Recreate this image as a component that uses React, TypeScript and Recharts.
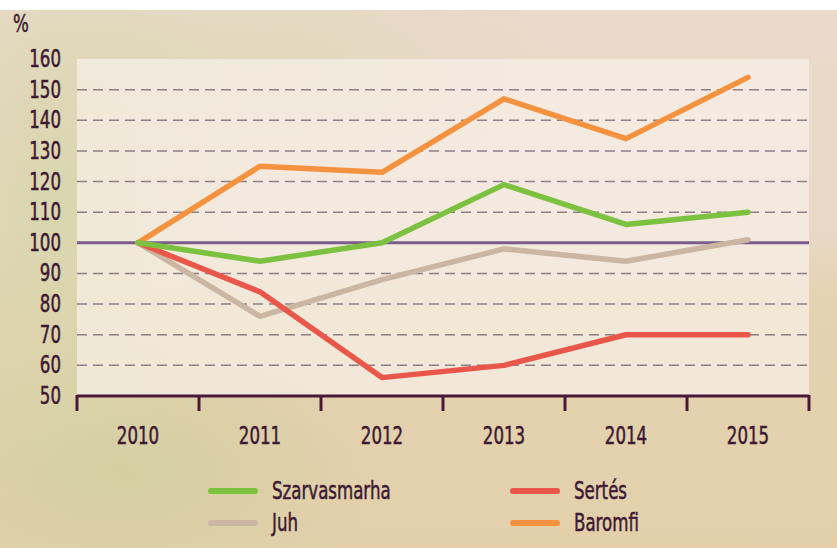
import React from 'react';
import { LineChart, Line, XAxis, YAxis, ReferenceLine, ReferenceArea } from 'recharts';

const categories = ['2010', '2011', '2012', '2013', '2014', '2015'];
const szarvasmarha = [100, 94, 100, 119, 106, 110];
const juh = [100, 76, 88, 98, 94, 101];
const sertes = [100, 84, 56, 60, 70, 70];
const baromfi = [100, 125, 123, 147, 134, 154];
const yTicks = [50, 60, 70, 80, 90, 100, 110, 120, 130, 140, 150, 160];
const gridValues = [60, 70, 80, 90, 110, 120, 130, 140, 150];
const xTicks = [0, 1, 2, 3, 4, 5, 6];

const data = categories.map((c, i) => ({
  x: i + 0.5,
  year: c,
  szarvasmarha: szarvasmarha[i],
  juh: juh[i],
  sertes: sertes[i],
  baromfi: baromfi[i],
}));

const FONT = "'DejaVu Sans Condensed', 'DejaVu Sans', sans-serif";
const TEXT = '#3d1a33';
const AXIS = '#4a1838';
const SX = 0.77;

const COLORS = {
  szarvasmarha: '#7cc240',
  juh: '#cbb5a3',
  sertes: '#e9574b',
  baromfi: '#f59240',
};

const XTick = (props: any) => {
  const { x, y, payload } = props;
  const idx = payload.value;
  const band = 122;
  return (
    <g>
      <line x1={x} x2={x} y1={y - 1} y2={y + 15} stroke={AXIS} strokeWidth={3} />
      {idx < categories.length && (
        <text
          transform={`translate(${x + band / 2},${y + 48}) scale(${SX},1)`}
          x={0}
          y={0}
          textAnchor="middle"
          fontFamily={FONT}
          fontSize={24}
          fill={TEXT}
          stroke={TEXT}
          strokeWidth={0.5}
        >
          {categories[idx]}
        </text>
      )}
    </g>
  );
};

const YTick = (props: any) => {
  const { x, y, payload } = props;
  return (
    <text
      transform={`translate(${x},${y + 8}) scale(${SX},1)`}
      x={0}
      y={0}
      textAnchor="end"
      fontFamily={FONT}
      fontSize={24}
      fill={TEXT}
      stroke={TEXT}
      strokeWidth={0.5}
    >
      {payload.value}
    </text>
  );
};

const legendItems = [
  { name: 'Szarvasmarha', color: COLORS.szarvasmarha, left: 208, top: 478 },
  { name: 'Juh', color: COLORS.juh, left: 208, top: 510 },
  { name: 'Sertés', color: COLORS.sertes, left: 510, top: 478 },
  { name: 'Baromfi', color: COLORS.baromfi, left: 510, top: 510 },
];

export default function App() {
  return (
    <div
      style={{
        position: 'absolute',
        left: 0,
        top: 0,
        width: 837,
        height: 548,
        background: '#ffffff',
        overflow: 'hidden',
        fontFamily: FONT,
      }}
    >
      <div
        style={{
          position: 'absolute',
          left: 0,
          top: 10,
          width: 837,
          height: 538,
          background:
            'radial-gradient(ellipse 200px 300px at 60px 200px, rgba(214,214,170,0.9), rgba(214,214,170,0) 100%),' +
            'radial-gradient(ellipse 260px 140px at 120px 460px, rgba(210,206,160,0.9), rgba(210,206,160,0) 100%),' +
            'radial-gradient(ellipse 300px 120px at 260px 60px, rgba(224,216,184,0.8), rgba(224,216,184,0) 100%),' +
            'linear-gradient(180deg, #eadacb 0%, #e9d8c6 40%, #e4d2b0 55%, #e3d0ab 100%)',
        }}
      />
      <div
        style={{
          position: 'absolute',
          left: 13,
          top: 11,
          fontSize: 24,
          color: TEXT,
          lineHeight: '26px',
          transform: `scaleX(${SX})`,
          transformOrigin: 'left center',
          WebkitTextStroke: `0.5px ${TEXT}`,
        }}
      >
        %
      </div>
      <div style={{ position: 'absolute', left: 0, top: 0 }}>
        <LineChart
          width={837}
          height={548}
          data={data}
          margin={{ top: 59, right: 28, bottom: 92, left: 0 }}
        >
          <ReferenceArea
            x1={0}
            x2={6}
            y1={50}
            y2={160}
            fill="#f8f1ea"
            fillOpacity={0.7}
            stroke="none"
            ifOverflow="visible"
          />
          {gridValues.map((v) => (
            <ReferenceLine
              key={v}
              y={v}
              stroke="#8c7f86"
              strokeWidth={1.5}
              strokeDasharray="10 6"
            />
          ))}
          <ReferenceLine y={100} stroke="#7a5d8c" strokeWidth={3} />
          <XAxis
            type="number"
            dataKey="x"
            domain={[0, 6]}
            ticks={xTicks}
            interval={0}
            height={60}
            axisLine={{ stroke: AXIS, strokeWidth: 3 }}
            tickLine={false}
            tickSize={0}
            tickMargin={0}
            tick={<XTick />}
          />
          <YAxis
            type="number"
            domain={[50, 160]}
            ticks={yTicks}
            interval={0}
            width={77}
            axisLine={false}
            tickLine={false}
            tickSize={0}
            tickMargin={16}
            tick={<YTick />}
          />
          <Line
            type="linear"
            dataKey="juh"
            stroke={COLORS.juh}
            strokeWidth={5.5}
            strokeLinecap="round"
            strokeLinejoin="round"
            dot={false}
            isAnimationActive={false}
          />
          <Line
            type="linear"
            dataKey="sertes"
            stroke={COLORS.sertes}
            strokeWidth={5.5}
            strokeLinecap="round"
            strokeLinejoin="round"
            dot={false}
            isAnimationActive={false}
          />
          <Line
            type="linear"
            dataKey="baromfi"
            stroke={COLORS.baromfi}
            strokeWidth={5.5}
            strokeLinecap="round"
            strokeLinejoin="round"
            dot={false}
            isAnimationActive={false}
          />
          <Line
            type="linear"
            dataKey="szarvasmarha"
            stroke={COLORS.szarvasmarha}
            strokeWidth={5.5}
            strokeLinecap="round"
            strokeLinejoin="round"
            dot={false}
            isAnimationActive={false}
          />
        </LineChart>
      </div>
      {legendItems.map((it) => (
        <div
          key={it.name}
          style={{
            position: 'absolute',
            left: it.left,
            top: it.top,
            display: 'flex',
            alignItems: 'center',
            height: 26,
          }}
        >
          <div
            style={{
              width: 50,
              height: 6,
              borderRadius: 3,
              background: it.color,
              marginRight: 14,
              flex: 'none',
            }}
          />
          <span
            style={{
              fontSize: 24,
              color: TEXT,
              lineHeight: '26px',
              display: 'inline-block',
              whiteSpace: 'nowrap',
              transform: `scaleX(${SX})`,
              transformOrigin: 'left center',
              WebkitTextStroke: `0.5px ${TEXT}`,
            }}
          >
            {it.name}
          </span>
        </div>
      ))}
    </div>
  );
}
